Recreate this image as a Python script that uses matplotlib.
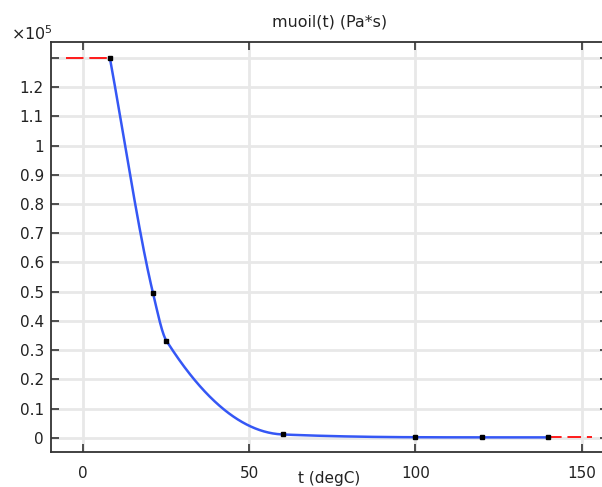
import numpy as np
import matplotlib
matplotlib.use("Agg")
import matplotlib.pyplot as plt
from matplotlib.ticker import FixedLocator, FuncFormatter

# Data (Pa*s)
t_data = [8, 21, 25, 60, 100, 120, 140]
mu_data = [1.30e5, 0.495e5, 0.333e5, 0.012e5, 0.0025e5, 0.002e5, 0.002e5]
x_ticks = [0, 50, 100, 150]
y_ticks = [0, 0.1e5, 0.2e5, 0.3e5, 0.4e5, 0.5e5, 0.6e5, 0.7e5, 0.8e5, 0.9e5,
           1.0e5, 1.1e5, 1.2e5, 1.3e5]
title = "muoil(t) (Pa*s)"
xlabel = "t (degC)"


def pchip(x, y, xq):
    x = np.asarray(x, float)
    y = np.asarray(y, float)
    h = np.diff(x)
    d = np.diff(y) / h
    n = len(x)
    m = np.zeros(n)
    for k in range(1, n - 1):
        if d[k - 1] * d[k] <= 0:
            m[k] = 0.0
        else:
            w1 = 2 * h[k] + h[k - 1]
            w2 = h[k] + 2 * h[k - 1]
            m[k] = (w1 + w2) / (w1 / d[k - 1] + w2 / d[k])
    m[0] = d[0]
    m[-1] = d[-1]
    xq = np.asarray(xq, float)
    idx = np.clip(np.searchsorted(x, xq) - 1, 0, n - 2)
    s = (xq - x[idx]) / h[idx]
    h00 = 2 * s**3 - 3 * s**2 + 1
    h10 = s**3 - 2 * s**2 + s
    h01 = -2 * s**3 + 3 * s**2
    h11 = s**3 - s**2
    return (h00 * y[idx] + h10 * h[idx] * m[idx] + h01 * y[idx + 1]
            + h11 * h[idx] * m[idx + 1])


fig = plt.figure(figsize=(6.02, 4.87), dpi=100)
ax = fig.add_axes([50.7 / 602, 35 / 487, (607.5 - 50.7) / 602, 410 / 487])

tq = np.linspace(t_data[0], t_data[-1], 800)
ax.plot(tq, pchip(t_data, mu_data, tq), color="#3557f5", lw=1.8, zorder=3)

span = t_data[-1] - t_data[0]
ext = 0.1 * span
ax.plot([t_data[0] - ext, t_data[0]], [mu_data[0], mu_data[0]], color="#ff1a1a",
        lw=1.4, dashes=(9, 3), zorder=3)
ax.plot([t_data[-1], t_data[-1] + ext], [mu_data[-1], mu_data[-1]], color="#ff1a1a",
        lw=1.4, dashes=(7, 3), zorder=3)
ax.plot(t_data, mu_data, ls="none", marker="s", ms=3, color="black", zorder=4)

ax.set_xlim(-9.8, 157.8)
ax.set_ylim(-0.048e5, 1.354e5)

ax.xaxis.set_major_locator(FixedLocator(x_ticks))
ax.yaxis.set_major_locator(FixedLocator(y_ticks))


def yfmt(v, pos):
    if abs(v - 1.3e5) < 1:
        return ""
    return "%g" % round(v / 1e5, 2)


ax.yaxis.set_major_formatter(FuncFormatter(yfmt))
ax.xaxis.set_major_formatter(FuncFormatter(lambda v, p: "%g" % v))

ax.grid(True, color="#e8e8e8", lw=2)
ax.set_axisbelow(True)
ax.tick_params(direction="in", top=True, right=True, length=6, width=1.2,
               labelsize=11, color="#333333", labelcolor="#222222")
ax.tick_params(axis="x", pad=10)
ax.tick_params(axis="y", pad=5)
for sp in ax.spines.values():
    sp.set_linewidth(1.3)
    sp.set_color("#333333")

ax.set_title(title, fontsize=11.4, pad=11, color="#222222")
ax.set_xlabel(xlabel, fontsize=11, color="#222222")
ax.xaxis.set_label_coords(0.5, -0.047)
fig.text(11 / 602, 1 - 43 / 487, "\u00d710$^{5}$", fontsize=11.5, color="#222222",
         va="bottom", ha="left")

fig.savefig("out.png", dpi=100)
